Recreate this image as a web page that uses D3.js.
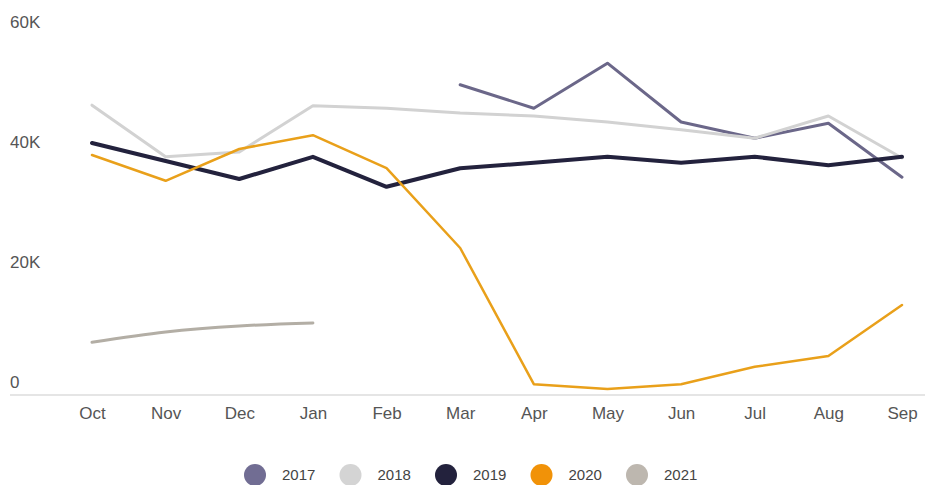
<!DOCTYPE html>
<html>
<head>
<meta charset="utf-8">
<script src="https://cdn.jsdelivr.net/npm/d3@7"></script>
<style>
  body { margin: 0; background: #fff; }
  svg { display: block; }
  .tick-label { font-family: "Liberation Sans Narrow", "Liberation Sans", sans-serif; font-size: 17px; fill: #555; }
  .legend-label { font-family: "Liberation Sans", sans-serif; font-size: 15px; fill: #444; }
</style>
</head>
<body>
<svg id="chart" width="925" height="485"></svg>
<script>
// month categories (fiscal year Oct -> Sep)
const months = ['Oct', 'Nov', 'Dec', 'Jan', 'Feb', 'Mar', 'Apr', 'May', 'Jun', 'Jul', 'Aug', 'Sep'];

const years = ['2017', '2018', '2019', '2020', '2021'];

// values per year, null where there's no data
const values2017 = [null, null, null, null, null, 51700, 47800, 55300, 45500, 42800, 45300, 36300];
const values2018 = [48300, 39700, 40500, 48200, 47800, 47000, 46500, 45500, 44200, 42800, 46500, 39500];
const values2019 = [42000, 39000, 36000, 39700, 34700, 37800, 38700, 39700, 38700, 39700, 38300, 39700];
const values2020 = [40000, 35700, 41000, 43300, 37800, 24500, 1800, 1000, 1800, 4700, 6500, 15000];
const values2021 = [8800, 10500, 11500, 12000, null, null, null, null, null, null, null, null];

const yTicks = [0, 20000, 40000, 60000];
const yTickLabels = ['0', '20K', '40K', '60K'];

const lineColors = ['#6b6789', '#d2d2d2', '#23223d', '#e9a01a', '#b3aea5'];
const legendColors = ['#716d93', '#d4d4d4', '#23223d', '#f19208', '#bdb7af'];
const lineWidths = [3, 3, 4, 2.5, 3];

const series = [values2017, values2018, values2019, values2020, values2021];

let svg = d3.select('#chart');
let width = 925, height = 485;

let x = d3.scalePoint()
  .domain(months)
  .range([92, 902]);

let y = d3.scaleLinear()
  .domain([0, 60000])
  .range([395, 35]);

// baseline
svg.append('line')
  .attr('x1', 10).attr('x2', width)
  .attr('y1', y(0)).attr('y2', y(0))
  .attr('stroke', '#dcdcdc')
  .attr('stroke-width', 1.5);

// y labels sit above their (invisible) gridlines
svg.append('g')
  .selectAll('text').data(yTicks).enter().append('text')
  .attr('class', 'tick-label')
  .attr('x', 10)
  .attr('y', d => y(d) - 7)
  .text((d, i) => yTickLabels[i]);

// x axis
let xAxis = d3.axisBottom(x).tickSize(0).tickPadding(12);
let gx = svg.append('g')
  .attr('transform', `translate(0,${y(0)})`)
  .call(xAxis);
gx.select('.domain').remove();
gx.selectAll('text').attr('class', 'tick-label').attr('fill', null).attr('font-size', null).attr('font-family', null);

// lines
series.forEach((vals, i) => {
  let line = d3.line()
    .defined(d => d != null)
    .x((d, j) => x(months[j]))
    .y(d => y(d))
    .curve(years[i] === '2021' ? d3.curveMonotoneX : d3.curveLinear);

  svg.append('path')
    .datum(vals)
    .attr('fill', 'none')
    .attr('stroke', lineColors[i])
    .attr('stroke-width', lineWidths[i])
    .attr('stroke-linejoin', 'round')
    .attr('stroke-linecap', 'round')
    .attr('d', line);
});

// legend
let legend = svg.append('g').attr('transform', 'translate(255,475)');
let item = legend.selectAll('g').data(years).enter().append('g')
  .attr('transform', (d, i) => `translate(${i * 95.5},0)`);
item.append('circle')
  .attr('r', 11)
  .attr('fill', (d, i) => legendColors[i]);
item.append('text')
  .attr('class', 'legend-label')
  .attr('x', 27)
  .attr('dy', '0.35em')
  .text(d => d);
</script>
</body>
</html>
